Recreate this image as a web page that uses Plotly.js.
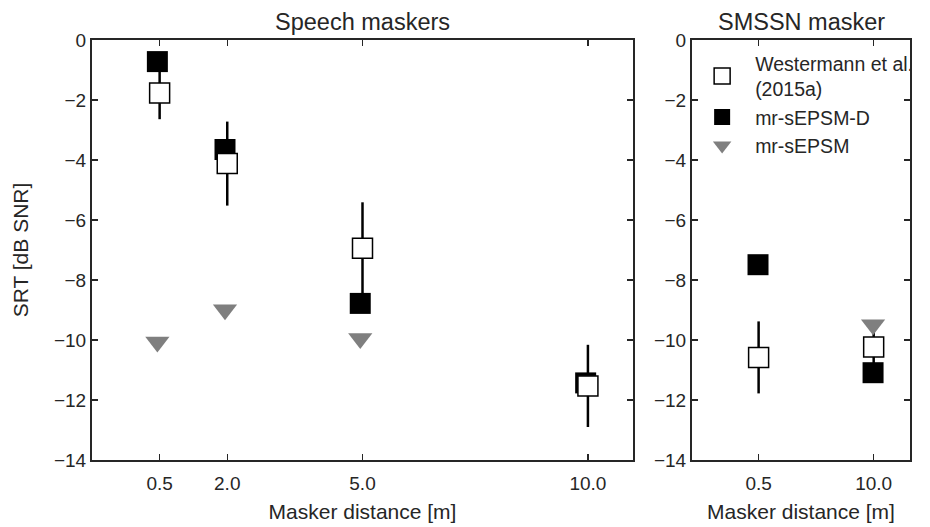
<!DOCTYPE html>
<html>
<head>
<meta charset="utf-8">
<script src="https://cdn.plot.ly/plotly-3.0.1.min.js"></script>
<style>html,body{margin:0;padding:0;background:#fff;}#chart{width:930px;height:527px;}</style>
</head>
<body>
<div id="chart"></div>
<script>
// ---- data ----
const distSpeech = [0.5, 2.0, 5.0, 10.0];
const distSpeechLabels = ['0.5', '2.0', '5.0', '10.0'];
const westSpeech = [-1.77, -4.12, -6.94, -11.53];
const westSpeechErr = [0.87, 1.40, 1.53, 1.37];
const epsmDSpeech = [-0.72, -3.65, -8.78, -11.43];
const epsmSpeech = [-10.07, -8.99, -9.95, null];

const distSmssn = [0.5, 10.0];
const distSmssnLabels = ['0.5', '10.0'];
const westSmssn = [-10.58, -10.23];
const westSmssnErr = [1.20, 0.55];
const epsmDSmssn = [-7.49, -11.09];
const epsmSmssn = [null, -9.49];

const yTicks = [0, -2, -4, -6, -8, -10, -12, -14];

const seriesNames = ['Westermann et al.<br>(2015a)', 'mr-sEPSM-D', 'mr-sEPSM'];
const panelTitles = ['Speech maskers', 'SMSSN masker'];

// ---- styling ----
const FONT = 'Liberation Sans, Arial, sans-serif';
const TXT = '#262626';
const MS = 21;
const modelShift = 0.05;
const shift = arr => arr.map(v => v - modelShift);

function panelTraces(xs, west, westErr, epsmD, epsm, xa, ya, legend) {
  return [
    {
      x: xs, y: west, xaxis: xa, yaxis: ya, type: 'scatter', mode: 'markers',
      marker: {size: MS, color: 'rgba(0,0,0,0)', line: {width: 0}},
      error_y: {type: 'data', array: westErr, visible: true, color: '#000', thickness: 2.5, width: 0},
      showlegend: false, hoverinfo: 'skip'
    },
    {
      x: shift(xs), y: epsm, xaxis: xa, yaxis: ya, type: 'scatter', mode: 'markers',
      name: seriesNames[2], legendrank: 3, showlegend: legend,
      marker: {symbol: 'triangle-down', size: MS, color: '#7f7f7f', line: {width: 0}}
    },
    {
      x: shift(xs), y: epsmD, xaxis: xa, yaxis: ya, type: 'scatter', mode: 'markers',
      name: seriesNames[1], legendrank: 2, showlegend: legend,
      marker: {symbol: 'square', size: MS, color: '#000', line: {width: 0}}
    },
    {
      x: xs, y: west, xaxis: xa, yaxis: ya, type: 'scatter', mode: 'markers',
      name: seriesNames[0], legendrank: 1, showlegend: legend,
      marker: {symbol: 'square', size: MS - 1, color: '#fff', line: {width: 1.5, color: '#000'}}
    }
  ];
}

const data = [].concat(
  panelTraces(distSpeech, westSpeech, westSpeechErr, epsmDSpeech, epsmSpeech, 'x', 'y', false),
  panelTraces(distSmssn, westSmssn, westSmssnErr, epsmDSmssn, epsmSmssn, 'x2', 'y2', true)
);

const axisCommon = {
  showline: true, linecolor: TXT, linewidth: 2, mirror: 'ticks',
  ticks: 'inside', ticklen: 6, tickwidth: 1.5, tickcolor: TXT,
  showgrid: false, zeroline: false, automargin: false,
  tickfont: {family: FONT, size: 19, color: TXT}
};
const xTitleFont = {family: FONT, size: 21, color: TXT};

const layout = {
  width: 930, height: 527,
  paper_bgcolor: '#fff', plot_bgcolor: '#fff',
  margin: {l: 0, r: 0, t: 40, b: 67},
  font: {family: FONT, color: TXT},
  showlegend: true,
  legend: {
    x: 0.741, y: 0.99, xanchor: 'left', yanchor: 'top',
    bgcolor: 'rgba(0,0,0,0)', borderwidth: 0, itemwidth: 56,
    font: {family: FONT, size: 19.5, color: TXT},
    traceorder: 'normal'
  },
  xaxis: Object.assign({}, axisCommon, {
    domain: [92 / 930, 633 / 930], range: [-1, 11], ticklabelstandoff: 5,
    tickmode: 'array', tickvals: distSpeech, ticktext: distSpeechLabels,
    title: {text: 'Masker distance [m]', font: xTitleFont, standoff: 12}
  }),
  yaxis: Object.assign({}, axisCommon, {
    domain: [0, 1], range: [-14, 0], tickmode: 'array', tickvals: yTicks,
    title: {text: 'SRT [dB SNR]', font: xTitleFont, standoff: 20}
  }),
  xaxis2: Object.assign({}, axisCommon, {
    domain: [692 / 930, 910 / 930], range: [-5, 13], anchor: 'y2', ticklabelstandoff: 5,
    tickmode: 'array', tickvals: distSmssn, ticktext: distSmssnLabels,
    title: {text: 'Masker distance [m]', font: xTitleFont, standoff: 12}
  }),
  yaxis2: Object.assign({}, axisCommon, {
    domain: [0, 1], range: [-14, 0], anchor: 'x2', tickmode: 'array', tickvals: yTicks
  }),
  annotations: [
    {text: panelTitles[0], xref: 'x domain', yref: 'paper', x: 0.5, y: 1, xanchor: 'center', yanchor: 'bottom',
     showarrow: false, yshift: 3, font: {family: FONT, size: 23.5, color: TXT}},
    {text: panelTitles[1], xref: 'x2 domain', yref: 'paper', x: 0.5, y: 1, xanchor: 'center', yanchor: 'bottom',
     showarrow: false, yshift: 3, font: {family: FONT, size: 23.5, color: TXT}}
  ]
};

Plotly.newPlot('chart', data, layout, {staticPlot: true, displayModeBar: false});
</script>
</body>
</html>
